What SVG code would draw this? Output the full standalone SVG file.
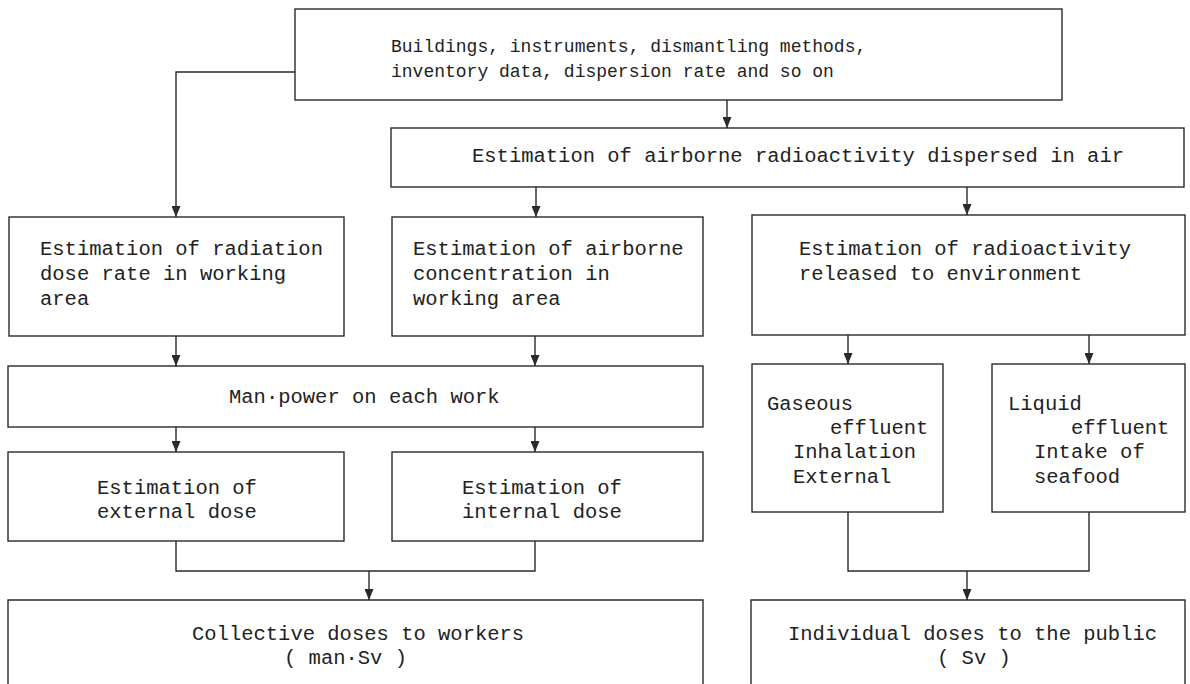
<svg xmlns="http://www.w3.org/2000/svg" width="1190" height="684" viewBox="0 0 1190 684">
  <style>
    .box { fill: #ffffff; stroke: #2a2a2a; stroke-width: 1.4; }
    .open { fill: none; stroke: #2a2a2a; stroke-width: 1.4; }
    .wire { fill: none; stroke: #2a2a2a; stroke-width: 1.4; }
    .arrow { marker-end: url(#head); }
    text { font-family: "Liberation Mono", "DejaVu Sans Mono", monospace; font-size: 20.5px; fill: #222222; }
    .small { font-size: 18px; }
  </style>
  <defs>
    <!-- filled arrowhead, tip on the end of the line -->
    <marker id="head" markerUnits="userSpaceOnUse" markerWidth="11" markerHeight="9" viewBox="0 0 11 9" refX="11" refY="4.5" orient="auto">
      <path d="M0,0 L11,4.5 L0,9 Z" fill="#2a2a2a"/>
    </marker>
  </defs>
  <rect width="1190" height="684" fill="#ffffff"/>

  <!-- connectors -->
  <g id="connectors">
    <path class="wire arrow" d="M295,72 H176 V217"/>
    <path class="wire arrow" d="M727,100 V128"/>
    <path class="wire arrow" d="M536,187 V217"/>
    <path class="wire arrow" d="M967,187 V215"/>
    <path class="wire arrow" d="M176,336 V366"/>
    <path class="wire arrow" d="M535,336 V366"/>
    <path class="wire arrow" d="M848,335 V364"/>
    <path class="wire arrow" d="M1089,335 V364"/>
    <path class="wire arrow" d="M176,427 V452"/>
    <path class="wire arrow" d="M535,427 V452"/>
    <path class="wire" d="M176,541 V571 H535 V541"/>
    <path class="wire arrow" d="M369,571 V600"/>
    <path class="wire" d="M848,512 V571 H1089 V512"/>
    <path class="wire arrow" d="M967,571 V600"/>
  </g>

  <g id="inputs">
    <rect class="box" x="295" y="9" width="767" height="91"/>
    <text class="small" x="391" y="52">Buildings, instruments, dismantling methods,</text>
    <text class="small" x="391" y="77">inventory data, dispersion rate and so on</text>
  </g>

  <g id="airborne-dispersion">
    <rect class="box" x="391" y="128" width="793" height="59"/>
    <text x="472" y="162">Estimation of airborne radioactivity dispersed in air</text>
  </g>

  <g id="dose-rate">
    <rect class="box" x="9" y="217" width="335" height="119"/>
    <text x="40" y="255">Estimation of radiation</text>
    <text x="40" y="280">dose rate in working</text>
    <text x="40" y="305">area</text>
  </g>

  <g id="airborne-concentration">
    <rect class="box" x="392" y="217" width="311" height="119"/>
    <text x="413" y="255">Estimation of airborne</text>
    <text x="413" y="280">concentration in</text>
    <text x="413" y="305">working area</text>
  </g>

  <g id="environment-release">
    <rect class="box" x="752" y="215" width="433" height="120"/>
    <text x="799" y="255">Estimation of radioactivity</text>
    <text x="799" y="280">released to environment</text>
  </g>

  <g id="man-power">
    <rect class="box" x="8" y="366" width="695" height="61"/>
    <text x="229" y="403">Man·power on each work</text>
  </g>

  <g id="gaseous">
    <rect class="box" x="752" y="364" width="191" height="148"/>
    <text x="767" y="410">Gaseous</text>
    <text x="830" y="434">effluent</text>
    <text x="793" y="458">Inhalation</text>
    <text x="793" y="483">External</text>
  </g>

  <g id="liquid">
    <rect class="box" x="992" y="364" width="193" height="148"/>
    <text x="1008" y="410">Liquid</text>
    <text x="1071" y="434">effluent</text>
    <text x="1034" y="458">Intake of</text>
    <text x="1034" y="483">seafood</text>
  </g>

  <g id="external-dose">
    <rect class="box" x="8" y="452" width="336" height="89"/>
    <text x="97" y="494">Estimation of</text>
    <text x="97" y="518">external dose</text>
  </g>

  <g id="internal-dose">
    <rect class="box" x="392" y="452" width="311" height="89"/>
    <text x="462" y="494">Estimation of</text>
    <text x="462" y="518">internal dose</text>
  </g>

  <g id="collective-doses">
    <path class="open" d="M8,690 V600 H703 V690"/>
    <text x="192" y="640">Collective doses to workers</text>
    <text x="284" y="664">( man·Sv )</text>
  </g>

  <g id="individual-doses">
    <path class="open" d="M751,690 V600 H1185 V690"/>
    <text x="788" y="640">Individual doses to the public</text>
    <text x="937" y="664">( Sv )</text>
  </g>
</svg>
